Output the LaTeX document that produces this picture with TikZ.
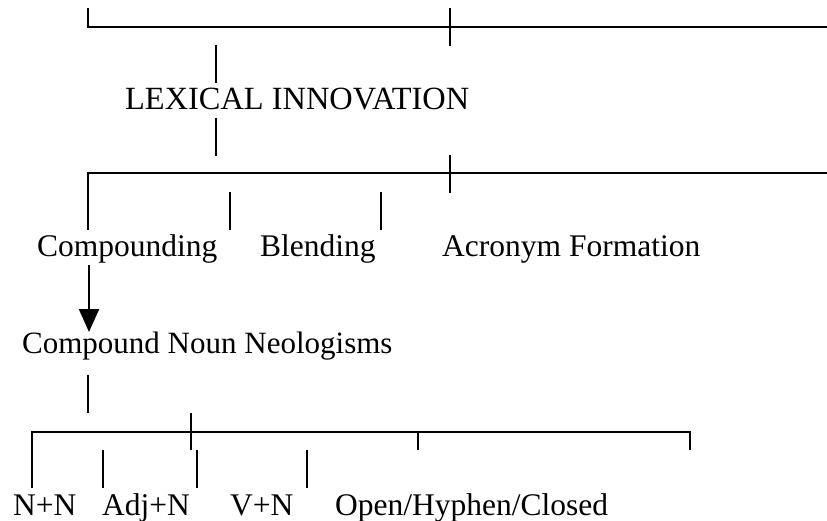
\documentclass[tikz,border=0pt]{standalone}
\usepackage{fontspec}
\setmainfont{Liberation Serif}
\usetikzlibrary{arrows.meta}
\begin{document}
\begin{tikzpicture}[x=1pt,y=-1pt,
  lbl/.style={inner sep=0pt,anchor=base west,font=\fontsize{31.5}{36}\selectfont},
  ln/.style={line width=2.3pt},
  arr/.style={line width=2.3pt,-{Triangle[length=23pt,width=20pt]}}]
\useasboundingbox (0,0) rectangle (827,521);
% text nodes
\node[lbl,font=\fontsize{32.4}{36}\selectfont] (lex) at (125,110) {LEXICAL INNOVATION};
\node[lbl] (comp) at (37,257) {Compounding};
\node[lbl] (blend) at (260,257) {Blending};
\node[lbl] (acro) at (442,257) {Acronym Formation};
\node[lbl,font=\fontsize{31}{36}\selectfont] (cnn) at (22,353) {Compound Noun Neologisms};
\node[lbl] (nn) at (13,515) {N+N};
\node[lbl] (adj) at (102,515) {Adj+N};
\node[lbl] (vn) at (230,515) {V+N};
\node[lbl] (ohc) at (335,515) {Open/Hyphen/Closed};
% coordinates
\coordinate (a1) at (88,8);
\coordinate (a2) at (88,27);
\coordinate (a3) at (827,27);
\coordinate (t1) at (450,8);
\coordinate (t2) at (450,46);
\coordinate (l1) at (216,45);
\coordinate (l2) at (216,83);
\coordinate (l3) at (216,118);
\coordinate (l4) at (216,156);
\coordinate (b1) at (88,230);
\coordinate (b2) at (88,173);
\coordinate (b3) at (827,173);
\coordinate (u1) at (450,155);
\coordinate (u2) at (450,193);
\coordinate (v1) at (230,192);
\coordinate (v2) at (230,230);
\coordinate (w1) at (381,192);
\coordinate (w2) at (381,230);
\coordinate (r1) at (89,265);
\coordinate (r2) at (89,332);
\coordinate (s1) at (88,375);
\coordinate (s2) at (88,413);
\coordinate (c1) at (32,488);
\coordinate (c2) at (32,432);
\coordinate (c3) at (690,432);
\coordinate (c4) at (690,450);
\coordinate (k1) at (191,413);
\coordinate (k2) at (191,450);
\coordinate (k3) at (418,432);
\coordinate (k4) at (418,450);
\coordinate (d1) at (103,450);
\coordinate (d2) at (103,488);
\coordinate (e1) at (197,450);
\coordinate (e2) at (197,488);
\coordinate (f1) at (307,450);
\coordinate (f2) at (307,488);
% connectors
\draw[ln] (a1) -- (a2) -- (a3);
\draw[ln] (t1) -- (t2);
\draw[ln] (l1) -- (l2);
\draw[ln] (l3) -- (l4);
\draw[ln] (b1) -- (b2) -- (b3);
\draw[ln] (u1) -- (u2);
\draw[ln] (v1) -- (v2);
\draw[ln] (w1) -- (w2);
\draw[arr] (r1) -- (r2);
\draw[ln] (s1) -- (s2);
\draw[ln] (c1) -- (c2) -- (c3) -- (c4);
\draw[ln] (k1) -- (k2);
\draw[ln] (k3) -- (k4);
\draw[ln] (d1) -- (d2);
\draw[ln] (e1) -- (e2);
\draw[ln] (f1) -- (f2);
\end{tikzpicture}
\end{document}
